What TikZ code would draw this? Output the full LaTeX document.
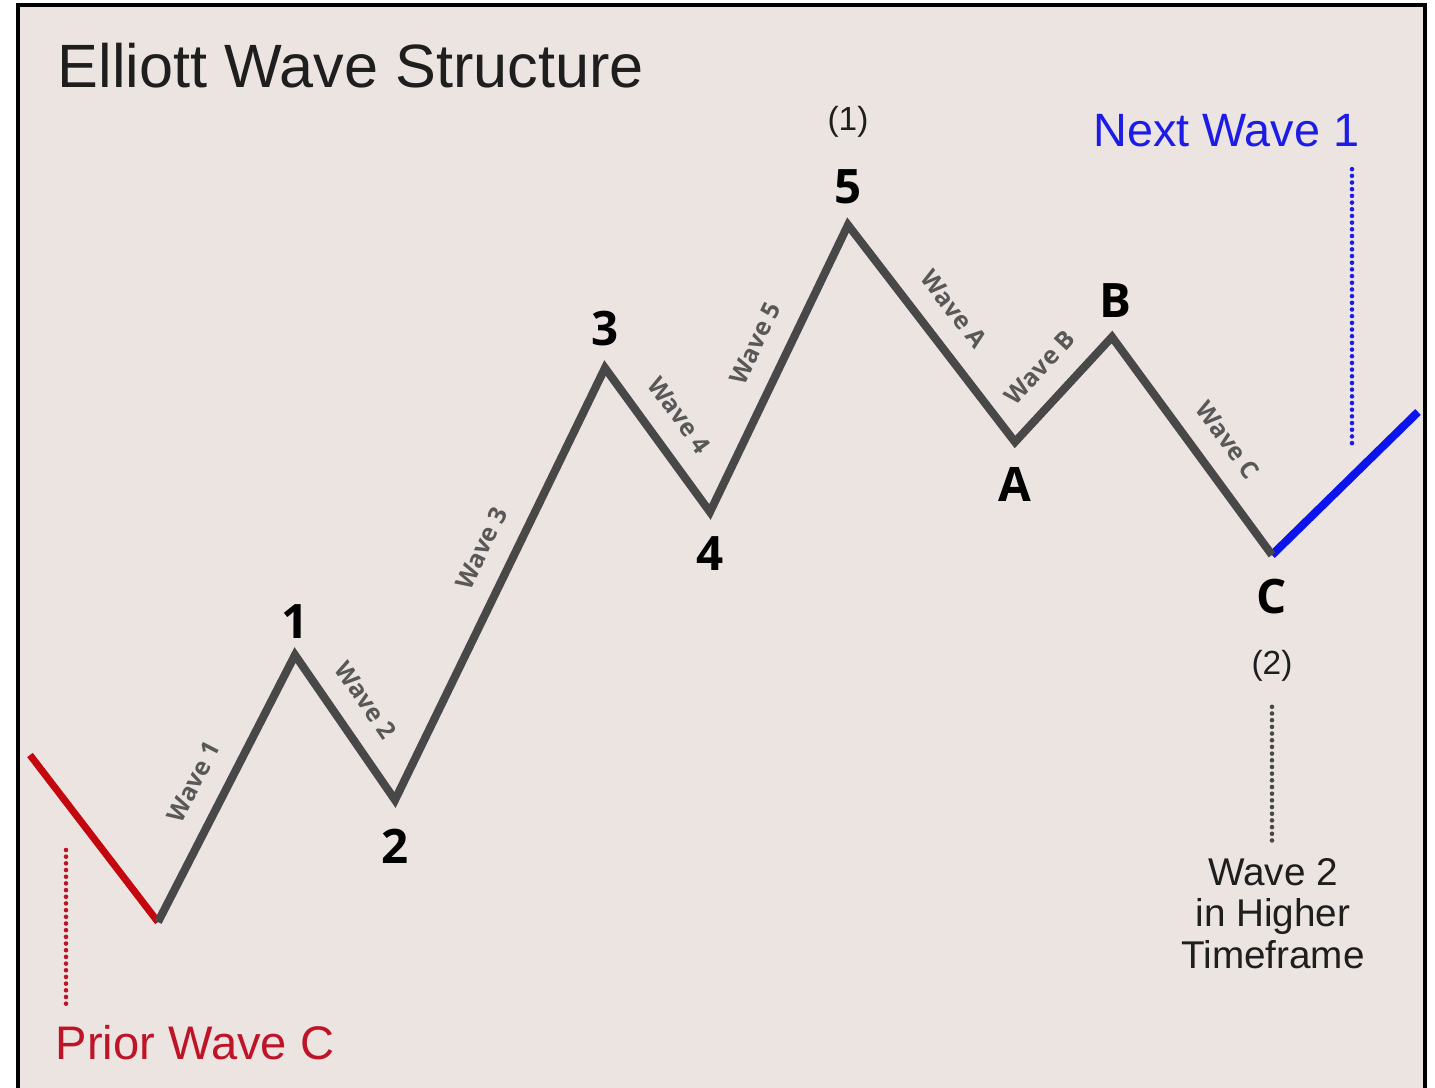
\documentclass[tikz,border=0pt]{standalone}
\usepackage{fontspec}
\setmainfont{Liberation Sans}
\newfontfamily\numfont{Open Sans}
\usetikzlibrary{positioning}

\definecolor{papel}{RGB}{236,228,224}
\definecolor{ondagris}{RGB}{72,72,72}
\definecolor{etiqgris}{RGB}{88,88,88}
\definecolor{rojoprev}{RGB}{196,6,14}
\definecolor{rojotxt}{RGB}{190,20,40}
\definecolor{azulsig}{RGB}{10,20,235}
\definecolor{azultxt}{RGB}{28,28,230}
\definecolor{tinta}{RGB}{30,30,30}

\tikzset{
	onda/.style={line width=2.3pt, ondagris, line join=miter},
	ondalab/.style={sloped, above=2.2pt, text=etiqgris,
		font=\numfont\bfseries\fontsize{7}{8}\selectfont},
	picolab/.style={inner sep=0pt, text=black,
		font=\numfont\bfseries\fontsize{13.5}{16}\selectfont},
	parlab/.style={inner sep=0pt, text=tinta, font=\fontsize{9.5}{11}\selectfont},
	punteada/.style={line width=1.3pt, line cap=round, dash pattern=on 0pt off 1.9pt},
}

\begin{document}
\begin{tikzpicture}[x=0.01cm, y=-0.01cm]
	
	\useasboundingbox (0,0) rectangle (1435,1088);
	\fill[papel] (18,5) rectangle (1425,1088);
	\draw[line width=1.2pt] (18,1088) -- (18,5) -- (1425,5) -- (1425,1088);
	
	% ── Puntos de la onda ───────────────────────────────────────────────
	\coordinate (p0) at (30,755);
	\coordinate (w0) at (158,922);
	\coordinate (w1) at (295,655);
	\coordinate (w2) at (395,800);
	\coordinate (w3) at (605,368);
	\coordinate (w4) at (710,512);
	\coordinate (w5) at (848,225);
	\coordinate (wA) at (1015,442);
	\coordinate (wB) at (1112,337);
	\coordinate (wC) at (1272,555);
	\coordinate (p9) at (1418,412);
	
	% ── Tramos ──────────────────────────────────────────────────────────
	\draw[line width=2pt, rojoprev] (p0) -- (w0);
	\draw[line width=2.3pt, azulsig] (wC) -- (p9);
	\draw[onda] (w0) -- node[ondalab, pos=0.47] {Wave 1} (w1)
		-- node[ondalab, pos=0.44] {Wave 2} (w2)
		-- node[ondalab, pos=0.55] {Wave 3} (w3)
		-- node[ondalab, pos=0.46] {Wave 4} (w4)
		-- node[ondalab, pos=0.54] {Wave 5} (w5)
		-- node[ondalab, pos=0.48] {Wave A} (wA)
		-- node[ondalab, pos=0.50] {Wave B} (wB)
		-- node[ondalab, pos=0.56] {Wave C} (wC);
	
	% ── Etiquetas de picos ──────────────────────────────────────────────
	\node[picolab, above=0.16cm of w1] (n1) {1};
	\node[picolab, below=0.28cm of w2] (n2) {2};
	\node[picolab, above=0.21cm of w3] (n3) {3};
	\node[picolab, below=0.24cm of w4] (n4) {4};
	\node[picolab, above=0.20cm of w5] (n5) {5};
	\node[picolab, below=0.25cm of wA] (nA) {A};
	\node[picolab, above=0.19cm of wB, xshift=0.03cm] (nB) {B};
	\node[picolab, below=0.23cm of wC] (nC) {C};
	
	\node[parlab, above=0.31cm of n5] (g1) {(1)};
	\node[parlab, below=0.35cm of nC] (g2) {(2)};
	
	% ── Textos ──────────────────────────────────────────────────────────
	\node[anchor=base west, inner sep=0pt, text=tinta, font=\fontsize{17.4}{20}\selectfont]
		(titulo) at (57,88) {Elliott Wave Structure};
	\node[anchor=base east, inner sep=0pt, text=azultxt, font=\fontsize{13.3}{16}\selectfont]
		(sig) at (1360,147) {Next Wave 1};
	\node[anchor=base west, inner sep=0pt, text=rojotxt, font=\fontsize{13.4}{16}\selectfont]
		(prev) at (55,1060) {Prior Wave C};
	\node[anchor=north, inner sep=0pt, align=center, text=tinta, font=\fontsize{11}{11.7}\selectfont]
		(mayor) at (1273,858) {Wave 2\\in Higher\\Timeframe};
	
	% ── Lineas punteadas ────────────────────────────────────────────────
	\coordinate (prevTop) at (66,850);
	\coordinate (sigBot) at (1352,447);
	\draw[punteada, rojotxt, shorten >=0.17cm] (prevTop) -- (prevTop |- prev.north);
	\draw[punteada, azultxt, shorten <=0.21cm] (sig.south -| sigBot) -- (sigBot);
	\draw[punteada, ondagris, shorten <=0.25cm, shorten >=0.15cm] (g2.south) -- (g2.south |- mayor.north);
	
\end{tikzpicture}
\end{document}
